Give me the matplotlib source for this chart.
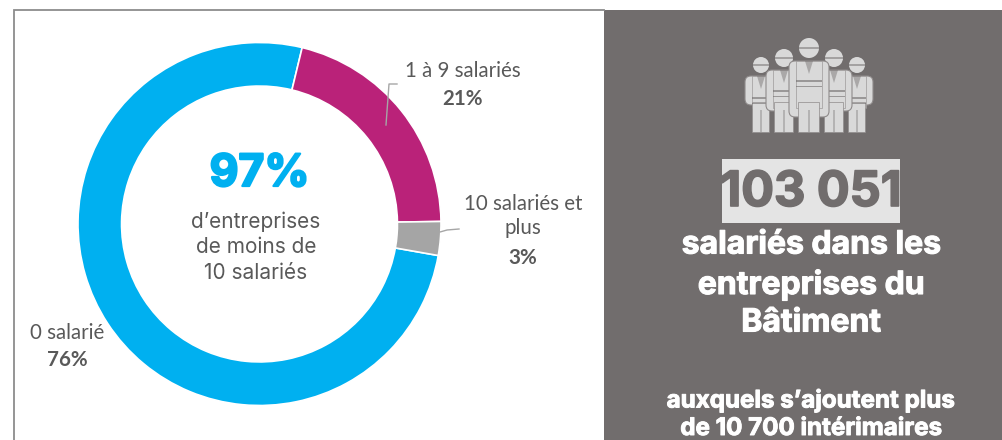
import matplotlib
matplotlib.use("Agg")
import matplotlib.pyplot as plt
from matplotlib.patches import Rectangle, Circle, FancyBboxPatch, Polygon
import matplotlib.patheffects as pe

W, H = 1002, 440
categories = ["0 salarié", "1 à 9 salariés", "10 salariés et\nplus"]
shares = [76, 21, 3]
share_labels = ["76%", "21%", "3%"]
colors = ["#00B0F0", "#BA2279", "#A5A5A5"]

GREY = "#716D6D"
TXT = "#595959"
fig = plt.figure(figsize=(W / 100, H / 100), dpi=100, facecolor="white")

bg = fig.add_axes([0, 0, 1, 1], zorder=0)
bg.set_xlim(0, W); bg.set_ylim(H, 0); bg.axis("off")
bg.plot([14, 14, 604], [H, 10, 10], color="#8c8c8c", lw=1.3, solid_joinstyle="miter")
bg.add_patch(Rectangle((604, 10), W - 604, H - 10, color=GREY, lw=0))

cx, cy, R = 259.5, 224, 181.5
pie = fig.add_axes([(cx - R) / W, 1 - (cy + R) / H, 2 * R / W, 2 * R / H], zorder=1)
pie.pie(shares, colors=colors, startangle=-10, counterclock=False, radius=1,
        wedgeprops=dict(width=0.24, edgecolor="white", linewidth=1.2))
pie.set_xlim(-1, 1); pie.set_ylim(-1, 1); pie.set_aspect("equal")
pie.patch.set_alpha(0)

ov = fig.add_axes([0, 0, 1, 1], zorder=2)
ov.set_xlim(0, W); ov.set_ylim(H, 0); ov.axis("off"); ov.patch.set_alpha(0)

ov.plot([386, 389, 397], [125, 84, 84], color="#A6A6A6", lw=1)
ov.plot([440, 447, 459], [232, 230, 229], color="#A6A6A6", lw=1)

def lab(x, y, s, bold=False, size=14.8):
    ov.text(x, y, s, ha="center", va="center", family="Lato", fontsize=size,
            color=TXT, fontweight="bold" if bold else "normal", linespacing=1.3)

lab(463, 71, categories[1]); lab(463, 99, share_labels[1], True)
lab(523, 216, categories[2]); lab(523, 258, share_labels[2], True)
lab(67, 333, categories[0]); lab(67, 360, share_labels[0], True)

ov.text(259.5, 174, "97%", ha="center", va="center", family="Inter", fontweight="bold",
        fontsize=32, color=colors[0], path_effects=[pe.withStroke(linewidth=1.6, foreground=colors[0])])
for y, s in zip([222, 247, 273], ["d’entreprises", "de moins de", "10 salariés"]):
    ov.text(256, y, s, ha="center", va="center", family="Inter", fontsize=15, color=TXT)

ICON = "#D9D9D9"
EDGE = "#8F8B8B"
BOTTOM = 132
def worker(x, hy, r, torso, leg, z):
    ov.add_patch(FancyBboxPatch((x - torso - 7, hy + r + 3), 2 * torso + 14, (105 - hy - r) - 3 + (z - 3) * 6,
                 boxstyle="round,pad=0,rounding_size=6", fc=ICON, ec=EDGE, lw=0.8, zorder=z))
    ov.add_patch(Rectangle((x - torso, hy + r + 3), 2 * torso, 105 - hy - r, fc=ICON, ec=EDGE, lw=0.4, zorder=z))
    ov.add_patch(Rectangle((x - leg, 102), 2 * leg, BOTTOM - 102, fc=ICON, ec=EDGE, lw=0.5, zorder=z))
    ov.add_patch(Rectangle((x - 0.6, 110), 1.2, BOTTOM - 110, color=GREY, alpha=.35, lw=0, zorder=z))
    ov.add_patch(Polygon([(x - 4, hy + r + 3), (x + 4, hy + r + 3), (x, hy + r + 16)],
                 color=GREY, alpha=.45, lw=0, zorder=z))
    ov.add_patch(Rectangle((x - torso, hy + 32), 2 * torso, 1.6, color=GREY, alpha=.6, lw=0, zorder=z))
    ov.add_patch(Rectangle((x - torso, hy + 38), 2 * torso, 1.3, color=GREY, alpha=.6, lw=0, zorder=z))
    ov.add_patch(Circle((x, hy), r, color=ICON, lw=0, zorder=z))
    ov.add_patch(Rectangle((x - r, hy - 0.5), 2 * r, 1.3, color=GREY, alpha=.5, lw=0, zorder=z))

worker(761, 65, 8, 9, 8.5, 3)
worker(857, 65, 8, 9, 8.5, 3)
worker(784, 58, 9, 11, 9.5, 4)
worker(834, 58, 9, 11, 9.5, 4)
worker(809, 48, 10, 13, 10.5, 5)

ov.add_patch(Rectangle((722, 159), 178, 64, color="#E4E4E4", lw=0))
ov.text(811, 193, "103 051", ha="center", va="center", family="Inter", fontweight="bold",
        fontsize=35, color=GREY, path_effects=[pe.withStroke(linewidth=1.2, foreground=GREY)])
for y, s in zip([245, 285, 323], ["salariés dans les", "entreprises du", "Bâtiment"]):
    ov.text(811, y, s, ha="center", va="center", family="Inter", fontweight="bold",
            fontsize=23, color="white", path_effects=[pe.withStroke(linewidth=0.8, foreground="white")])
for y, s in zip([401, 429], ["auxquels s’ajoutent plus", "de 10 700 intérimaires"]):
    ov.text(811, y, s, ha="center", va="center", family="Inter", fontweight="bold",
            fontsize=17.4, color="white", path_effects=[pe.withStroke(linewidth=0.7, foreground="white")])

fig.savefig("out.png", dpi=100)
